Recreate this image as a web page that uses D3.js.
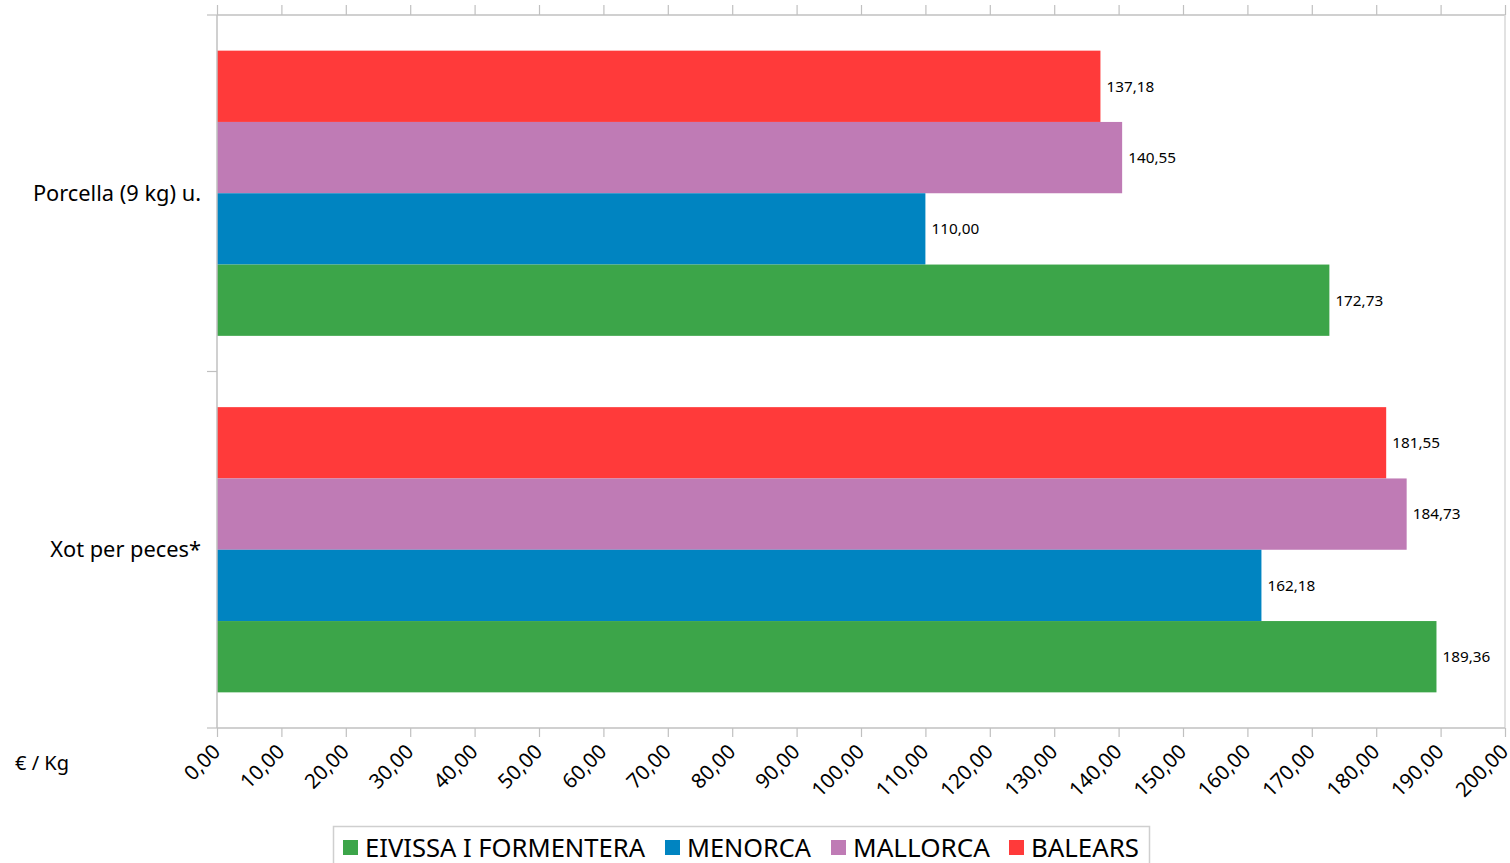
<!DOCTYPE html>
<html><head><meta charset="utf-8">
<script src="https://cdn.jsdelivr.net/npm/d3@7"></script>
<style>body{margin:0;background:#fff}svg{display:block}text{font-family:"Noto Sans",sans-serif}</style>
</head><body><svg id="c" width="1510" height="863"></svg>
<script>
const categories = ["Porcella (9 kg) u.", "Xot per peces*"];
const seriesNames = ["BALEARS", "MALLORCA", "MENORCA", "EIVISSA I FORMENTERA"];
const seriesColors = ["#ff3a3a", "#bf7bb5", "#0084c1", "#3ca549"];
const balears = [137.18, 181.55];
const mallorca = [140.55, 184.73];
const menorca = [110.00, 162.18];
const eivissa = [172.73, 189.36];
const tickValues = [0,10,20,30,40,50,60,70,80,90,100,110,120,130,140,150,160,170,180,190,200];
const legendOrder = ["EIVISSA I FORMENTERA", "MENORCA", "MALLORCA", "BALEARS"];
const unitLabel = "€ / Kg";

const seriesValues = [balears, mallorca, menorca, eivissa];
const fmt = v => v.toFixed(2).replace(".", ",");
const svg = d3.select("#c");
const L = 217, R = 1505, T = 15, B = 728;
const x = d3.scaleLinear().domain([0, 200]).range([L, R]);
const y0 = d3.scaleBand().domain(categories).range([T, B]).paddingInner(0.2).paddingOuter(0.1);
const y1 = d3.scaleBand().domain(seriesNames).range([0, y0.bandwidth()]);
const grey = "#c0c0c0";

// bars
categories.forEach((c, ci) => {
  const g = svg.append("g").attr("transform", `translate(0,${y0(c)})`);
  seriesNames.forEach((s, si) => {
    const v = seriesValues[si][ci];
    g.append("rect").attr("x", x(0)).attr("y", y1(s)).attr("width", x(v) - x(0)).attr("height", y1.bandwidth())
      .attr("fill", seriesColors[si]);
    g.append("text").attr("x", x(v) + 6).attr("y", y1(s) + y1.bandwidth() / 2).attr("dy", "0.35em")
      .attr("font-size", 15.3).attr("fill", "#000").text(fmt(v));
  });
});

// frame lines
svg.append("line").attr("x1", L).attr("x2", R).attr("y1", T).attr("y2", T).attr("stroke", grey).attr("stroke-width", 1.5);
svg.append("line").attr("x1", R).attr("x2", R).attr("y1", T).attr("y2", B).attr("stroke", "#d8d8d8").attr("stroke-width", 1.5);
svg.append("line").attr("x1", L).attr("x2", R).attr("y1", B).attr("y2", B).attr("stroke", grey).attr("stroke-width", 1.5);
svg.append("line").attr("x1", L).attr("x2", L).attr("y1", T).attr("y2", B).attr("stroke", grey).attr("stroke-width", 1.5);

// bottom axis
const xb = svg.append("g").attr("transform", `translate(0,${B})`)
  .call(d3.axisBottom(x).tickValues(tickValues).tickSize(9).tickFormat(fmt));
xb.select(".domain").remove();
xb.selectAll(".tick line").attr("stroke", grey).attr("stroke-width", 1.2);
xb.selectAll(".tick text").attr("font-size", 20.5).attr("fill", "#000").attr("text-anchor", "end")
  .attr("x", 0).attr("y", 0).attr("dy", 0)
  .attr("transform", "translate(4,25) rotate(-45)");

// top ticks
const xt = svg.append("g").attr("transform", `translate(0,${T})`)
  .call(d3.axisTop(x).tickValues(tickValues).tickSize(10).tickFormat(""));
xt.select(".domain").remove();
xt.selectAll(".tick line").attr("stroke", grey).attr("stroke-width", 1.2);

// left axis ticks at band boundaries
const yb = [T, (y0(categories[0]) + y0.bandwidth() + y0(categories[1])) / 2, B];
svg.selectAll(".ltick").data(yb).join("line").attr("x1", L - 10).attr("x2", L).attr("y1", d => d).attr("y2", d => d)
  .attr("stroke", grey).attr("stroke-width", 1.2);

// category labels
categories.forEach(c => {
  svg.append("text").attr("x", 201).attr("y", y0(c) + y0.bandwidth() / 2).attr("dy", "0.35em")
    .attr("text-anchor", "end").attr("font-size", 21.8).attr("fill", "#000").text(c);
});

svg.append("text").attr("x", 15).attr("y", 770).attr("font-size", 20).attr("fill", "#000").text(unitLabel);

// legend
svg.append("rect").attr("x", 333.5).attr("y", 826.5).attr("width", 816).attr("height", 50)
  .attr("fill", "#fff").attr("stroke", "#cfcfcf").attr("stroke-width", 1.5);
const legendX = [343, 665, 831, 1009];
const legendW = [280, 124, 137, 108];
legendOrder.forEach((n, i) => {
  const ci = seriesNames.indexOf(n);
  svg.append("rect").attr("x", legendX[i]).attr("y", 840).attr("width", 15).attr("height", 15).attr("fill", seriesColors[ci]);
  svg.append("text").attr("x", legendX[i] + 22).attr("y", 857).attr("font-size", 25).attr("fill", "#000")
    .attr("textLength", legendW[i]).attr("lengthAdjust", "spacingAndGlyphs").text(n);
});
</script></body></html>
